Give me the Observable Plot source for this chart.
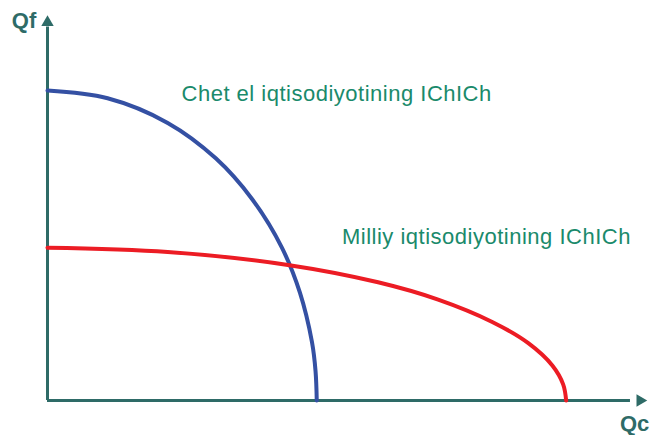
<!DOCTYPE html>
<html><head><meta charset="utf-8">
<script src="https://cdn.jsdelivr.net/npm/d3@7"></script>
<script src="https://cdn.jsdelivr.net/npm/@observablehq/plot@0.6"></script>
<style>body{margin:0;background:#fff;font-family:"Liberation Sans",Arial,sans-serif}</style>
</head><body><div id="chart"></div>
<script>
// Foreign economy PPF (blue)
const foreignX = [0, 10, 20, 28, 34, 39, 42, 44, 44.6, 44.8];
const foreignY = [80.5, 78.5, 72.1, 62.9, 52.4, 39.7, 28.0, 15.2, 7.6, 0];
// National economy PPF (red)
const nationalX = [0, 20, 40, 55, 65, 74, 80, 84, 85.8, 86.3];
const nationalY = [39.7, 38.6, 35.2, 30.7, 26.2, 20.4, 14.9, 9.1, 4.2, 0];
// Labels
const labels = ["Chet el iqtisodiyotining IChICh", "Milliy iqtisodiyotining IChICh"];
const labelX = [22.3, 49];
const labelY = [79.5, 42.5];
const axisNames = ["Qf", "Qc"];

const foreign = foreignX.map((x, i) => ({x, y: foreignY[i]}));
const national = nationalX.map((x, i) => ({x, y: nationalY[i]}));
const textData = labels.map((t, i) => ({t, x: labelX[i], y: labelY[i]}));

const axisCol = "#2e6b67";
const chart = Plot.plot({
  width: 656, height: 435,
  marginLeft: 47, marginRight: 8, marginTop: 15, marginBottom: 35,
  x: {domain: [0, 100], axis: null},
  y: {domain: [0, 100], axis: null},
  style: {fontFamily: "'Liberation Sans', Arial, sans-serif", background: "#fff"},
  marks: [
    Plot.ruleY([0], {x1: 0, x2: 97, stroke: axisCol, strokeWidth: 3}),
    Plot.ruleX([0], {y1: 0, y2: 97, stroke: axisCol, strokeWidth: 3}),
    Plot.dot([{x: 0, y: 98.2}], {x: "x", y: "y", symbol: "triangle", r: 4.6, fill: axisCol, stroke: "none"}),
    Plot.dot([{x: 98.6, y: 0}], {x: "x", y: "y", symbol: "triangle", r: 4.6, fill: axisCol, stroke: "none", rotate: 90}),
    Plot.line(foreign, {x: "x", y: "y", stroke: "#3450a3", strokeWidth: 4, curve: "catmull-rom"}),
    Plot.line(national, {x: "x", y: "y", stroke: "#ec1c24", strokeWidth: 4, curve: "catmull-rom"}),
    Plot.text(textData, {x: "x", y: "y", text: "t", textAnchor: "start", fill: "#1a8a6b", fontSize: 22, style: "letter-spacing:0.5px"}),
    Plot.text([{t: axisNames[0], x: -3.9, y: 98.7}], {x: "x", y: "y", text: "t", fill: axisCol, fontSize: 22, fontWeight: "bold"}),
    Plot.text([{t: axisNames[1], x: 97.7, y: -6.1}], {x: "x", y: "y", text: "t", fill: axisCol, fontSize: 22, fontWeight: "bold"})
  ]
});
chart.querySelectorAll("text").forEach(t => { if (t.textContent.includes("IChICh")) t.style.letterSpacing = "0.5px"; });
document.getElementById("chart").appendChild(chart);
</script></body></html>
